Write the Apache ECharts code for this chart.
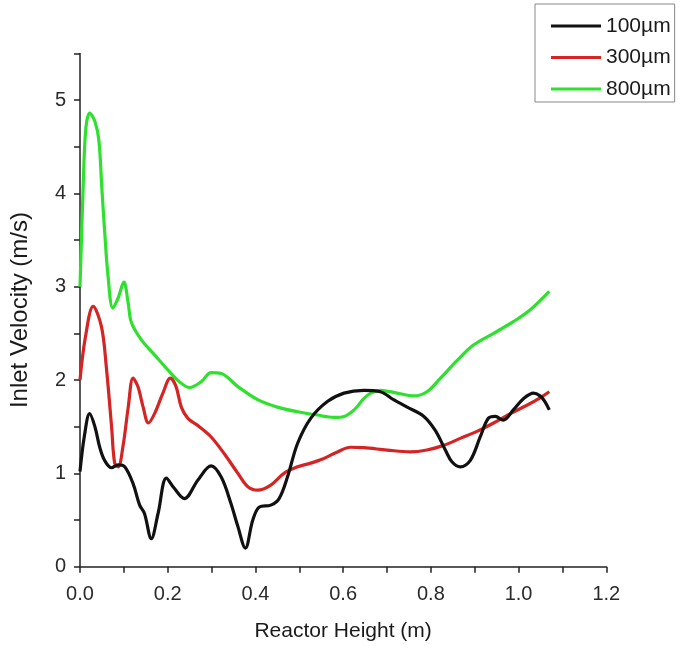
<!DOCTYPE html>
<html>
<head>
<meta charset="utf-8">
<script src="https://cdn.jsdelivr.net/npm/echarts@6/dist/echarts.min.js"></script>
<style>
html,body{margin:0;padding:0;background:#fff;}
#chart{width:685px;height:649px;}
</style>
</head>
<body>
<div id="chart"></div>
<script>
const seriesNames = ['100µm', '300µm', '800µm'];

const black100 = [
  [0, 1.02], [0.010, 1.40], [0.022, 1.64], [0.034, 1.50], [0.045, 1.28], [0.056, 1.14], [0.072, 1.06],
  [0.087, 1.09], [0.102, 1.07], [0.121, 0.89], [0.136, 0.66], [0.147, 0.57], [0.1625, 0.30],
  [0.178, 0.57], [0.197, 0.95], [0.215, 0.84], [0.238, 0.73], [0.269, 0.93], [0.299, 1.08],
  [0.322, 0.96], [0.344, 0.68], [0.360, 0.43], [0.377, 0.20], [0.394, 0.50], [0.409, 0.64],
  [0.435, 0.66], [0.454, 0.73], [0.473, 0.96], [0.496, 1.32], [0.526, 1.59], [0.564, 1.77],
  [0.602, 1.86], [0.647, 1.89], [0.685, 1.875], [0.715, 1.79], [0.746, 1.71], [0.784, 1.61],
  [0.810, 1.46], [0.833, 1.25], [0.848, 1.125], [0.867, 1.07], [0.890, 1.14], [0.9125, 1.39],
  [0.931, 1.59], [0.947, 1.61], [0.965, 1.57], [0.988, 1.68], [1.011, 1.80], [1.034, 1.86],
  [1.049, 1.83], [1.060, 1.77], [1.070, 1.68]
];

const red300 = [
  [0, 2.0], [0.012, 2.45], [0.030, 2.79], [0.049, 2.57], [0.060, 2.14], [0.072, 1.50], [0.079, 1.11],
  [0.087, 1.07], [0.098, 1.29], [0.110, 1.71], [0.121, 2.02], [0.132, 1.93], [0.144, 1.71],
  [0.156, 1.54], [0.170, 1.64], [0.189, 1.86], [0.206, 2.02], [0.219, 1.93], [0.231, 1.71],
  [0.246, 1.59], [0.272, 1.50], [0.299, 1.39], [0.329, 1.21], [0.360, 1.00], [0.382, 0.86],
  [0.405, 0.82], [0.435, 0.875], [0.465, 1.00], [0.496, 1.07], [0.526, 1.11], [0.556, 1.16],
  [0.587, 1.23], [0.617, 1.28], [0.647, 1.275], [0.700, 1.25], [0.753, 1.23], [0.791, 1.25],
  [0.829, 1.30], [0.867, 1.375], [0.905, 1.45], [0.943, 1.54], [0.981, 1.64], [1.019, 1.73],
  [1.049, 1.81], [1.070, 1.875]
];

const green800 = [
  [0, 3.0], [0.007, 4.04], [0.013, 4.68], [0.022, 4.86], [0.034, 4.77], [0.043, 4.57], [0.050, 4.04],
  [0.056, 3.61], [0.064, 3.11], [0.075, 2.77], [0.087, 2.88], [0.100, 3.05], [0.110, 2.82],
  [0.117, 2.62], [0.140, 2.43], [0.170, 2.27], [0.200, 2.11], [0.227, 1.98], [0.250, 1.92],
  [0.276, 1.98], [0.299, 2.08], [0.322, 2.07], [0.360, 1.93], [0.405, 1.79], [0.450, 1.71],
  [0.496, 1.66], [0.541, 1.625], [0.579, 1.60], [0.602, 1.61], [0.625, 1.68], [0.647, 1.80],
  [0.663, 1.86], [0.685, 1.89], [0.723, 1.86], [0.761, 1.83], [0.791, 1.875], [0.822, 2.02],
  [0.860, 2.21], [0.897, 2.375], [0.943, 2.50], [0.988, 2.625], [1.026, 2.75], [1.070, 2.95]
];

const xTicks = [0.0, 0.2, 0.4, 0.6, 0.8, 1.0, 1.2];
const yTicks = [0, 1, 2, 3, 4, 5];

const chart = echarts.init(document.getElementById('chart'));
const tickFont = "'Liberation Sans Narrow', 'Liberation Sans', Arial, sans-serif";
const font = "'Liberation Sans', Arial, sans-serif";

function near(v, list) {
  return list.some(t => Math.abs(t - v) < 1e-6);
}

chart.setOption({
  backgroundColor: '#fff',
  animation: false,
  grid: { left: 78.5, right: 78.7, top: 53.4, bottom: 82.3, containLabel: false },
  legend: {
    orient: 'vertical',
    left: 535, top: 4,
    padding: [11, 4, 2, 16],
    itemWidth: 50, itemHeight: 3,
    itemGap: 9.5,
    icon: 'rect',
    borderColor: '#888', borderWidth: 1,
    backgroundColor: '#fff',
    textStyle: { fontFamily: font, fontSize: 21, color: '#1a1a1a', lineHeight: 22, padding: [0,0,0,0] },
    data: seriesNames
  },
  xAxis: {
    type: 'value', min: 0, max: 1.2, interval: 0.1,
    name: 'Reactor Height (m)', nameLocation: 'middle', nameGap: 54,
    nameTextStyle: { fontFamily: font, fontSize: 21, color: '#1a1a1a' },
    axisLine: { show: true, lineStyle: { color: '#222', width: 1.5 } },
    axisTick: { show: true, inside: false, length: 6, lineStyle: { color: '#222', width: 1.5 } },
    axisLabel: {
      margin: 18, fontFamily: tickFont, fontSize: 20, color: '#2a2a2a',
      formatter: v => near(v, xTicks) ? v.toFixed(1) : ''
    },
    splitLine: { show: false }
  },
  yAxis: {
    type: 'value', min: 0, max: 5.5, interval: 0.5,
    name: 'Inlet Velocity (m/s)', nameLocation: 'middle', nameGap: 48, nameRotate: 90,
    nameTextStyle: { fontFamily: font, fontSize: 24, color: '#1a1a1a' },
    axisLine: { show: true, lineStyle: { color: '#222', width: 1.5 } },
    axisTick: { show: true, inside: false, length: 6, lineStyle: { color: '#222', width: 1.5 } },
    axisLabel: {
      margin: 14, fontFamily: tickFont, fontSize: 20, color: '#2a2a2a',
      formatter: v => near(v, yTicks) ? String(Math.round(v)) : ''
    },
    splitLine: { show: false }
  },
  series: [
    { name: seriesNames[0], type: 'line', data: black100, smooth: 0.35, showSymbol: false,
      lineStyle: { color: '#111', width: 3.2 }, itemStyle: { color: '#111' }, z: 3 },
    { name: seriesNames[1], type: 'line', data: red300, smooth: 0.35, showSymbol: false,
      lineStyle: { color: '#d42424', width: 3.2 }, itemStyle: { color: '#d42424' }, z: 2 },
    { name: seriesNames[2], type: 'line', data: green800, smooth: 0.35, showSymbol: false,
      lineStyle: { color: '#2fe02f', width: 3.2 }, itemStyle: { color: '#2fe02f' }, z: 1 }
  ]
});
</script>
</body>
</html>
